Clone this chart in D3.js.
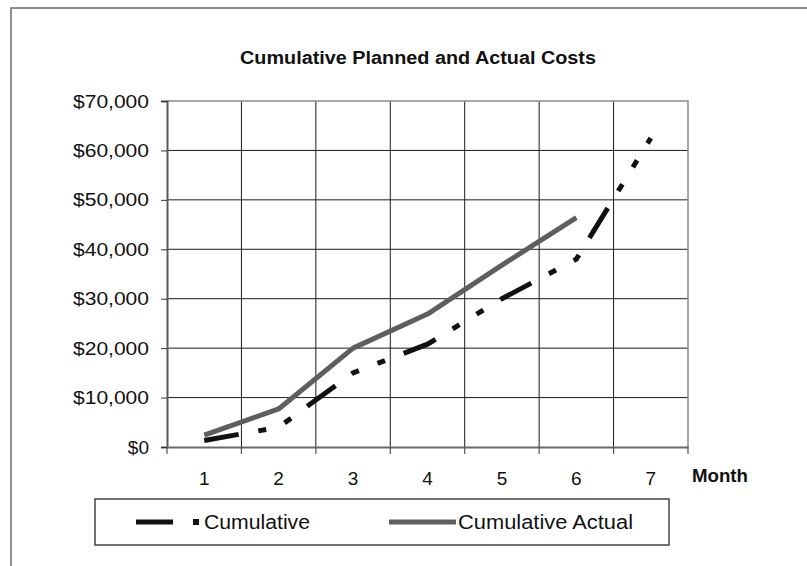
<!DOCTYPE html>
<html>
<head>
<meta charset="utf-8">
<script src="https://cdn.jsdelivr.net/npm/d3@7"></script>
<style>
  body { margin: 0; background: #fff; }
  svg { display: block; font-family: "Liberation Sans", Arial, sans-serif; }
</style>
</head>
<body>
<figure id="chart" style="margin:0"></figure>
<script>
// data
const months = ["1", "2", "3", "4", "5", "6", "7"];
const planned = [1300, 4000, 15000, 20800, 30000, 38000, 62500];
const actual = [2400, 7700, 20000, 26900, 36800, 46400];
const yTicks = [0, 10000, 20000, 30000, 40000, 50000, 60000, 70000];
const seriesNames = ["Cumulative", "Cumulative Actual"];

const width = 807;
const height = 566;
const plotLeft = 167, plotRight = 688, plotTop = 101, plotBottom = 447;

const svg = d3.select("#chart")
  .append("svg")
  .attr("width", width)
  .attr("height", height);

// outer chart border (cut off at right and bottom)
svg.append("rect")
  .attr("x", 11).attr("y", 8)
  .attr("width", 820).attr("height", 600)
  .attr("fill", "none")
  .attr("stroke", "#6a6a6a")
  .attr("stroke-width", 1.5);

svg.append("text")
  .attr("x", 418).attr("y", 64)
  .attr("text-anchor", "middle")
  .attr("font-size", 18)
  .attr("font-weight", "bold")
  .attr("textLength", 356)
  .attr("lengthAdjust", "spacingAndGlyphs")
  .attr("fill", "#111")
  .text("Cumulative Planned and Actual Costs");

const x = d3.scaleBand().domain(months).range([plotLeft, plotRight]);
const y = d3.scaleLinear().domain([0, 70000]).range([plotBottom, plotTop]);
const cx = d => x(d) + x.bandwidth() / 2;

// horizontal gridlines
svg.append("g").selectAll("line")
  .data(yTicks.slice(1, -1))
  .enter().append("line")
  .attr("x1", plotLeft).attr("x2", plotRight)
  .attr("y1", d => y(d)).attr("y2", d => y(d))
  .attr("stroke", "#1a1a1a").attr("stroke-width", 1);

// vertical gridlines at category boundaries
svg.append("g").selectAll("line")
  .data(months.slice(1))
  .enter().append("line")
  .attr("x1", d => x(d)).attr("x2", d => x(d))
  .attr("y1", plotTop).attr("y2", plotBottom)
  .attr("stroke", "#1a1a1a").attr("stroke-width", 1);

// plot border top/right
svg.append("path")
  .attr("d", `M${plotLeft},${plotTop}H${plotRight}V${plotBottom}`)
  .attr("fill", "none")
  .attr("stroke", "#8a8a8a").attr("stroke-width", 1.5);

// y axis
const yAxis = svg.append("g")
  .attr("transform", `translate(${plotLeft},0)`)
  .call(d3.axisLeft(y).tickValues(yTicks).tickSize(6).tickFormat(d => "$" + d3.format(",")(d)));
yAxis.select(".domain").attr("stroke", "#5a5a5a").attr("stroke-width", 2);
yAxis.selectAll(".tick line").attr("stroke", "#333");
yAxis.selectAll(".tick text")
  .attr("x", -18)
  .attr("font-size", 19)
  .attr("fill", "#111")
  .attr("font-family", "Liberation Sans, Arial, sans-serif")
  .each(function (d) {
    if (d > 0) d3.select(this).attr("textLength", 76).attr("lengthAdjust", "spacingAndGlyphs");
  });

// x axis
const xAxis = svg.append("g")
  .attr("transform", `translate(0,${plotBottom})`)
  .call(d3.axisBottom(x).tickSize(0).tickPadding(25));
xAxis.select(".domain").attr("stroke", "#6a6a6a").attr("stroke-width", 2);
xAxis.selectAll(".tick text")
  .attr("font-size", 19)
  .attr("fill", "#111")
  .attr("font-family", "Liberation Sans, Arial, sans-serif");
svg.append("g").selectAll("line")
  .data(months.concat(["end"]))
  .enter().append("line")
  .attr("x1", (d, i) => plotLeft + i * x.bandwidth())
  .attr("x2", (d, i) => plotLeft + i * x.bandwidth())
  .attr("y1", plotBottom).attr("y2", plotBottom + 7)
  .attr("stroke", "#555").attr("stroke-width", 1.2);

svg.append("text")
  .attr("x", 692).attr("y", 482)
  .attr("font-size", 18)
  .attr("font-weight", "bold")
  .attr("textLength", 56)
  .attr("lengthAdjust", "spacingAndGlyphs")
  .attr("fill", "#111")
  .text("Month");

// lines
const line = d3.line().x(d => cx(d.m)).y(d => y(d.v));

svg.append("path")
  .datum(actual.map((v, i) => ({ m: months[i], v: v })))
  .attr("d", line)
  .attr("fill", "none")
  .attr("stroke", "#5e5e5e")
  .attr("stroke-width", 5)
  .attr("stroke-linejoin", "round");

svg.append("path")
  .datum(planned.map((v, i) => ({ m: months[i], v: v })))
  .attr("d", line)
  .attr("fill", "none")
  .attr("stroke", "#111")
  .attr("stroke-width", 5)
  .attr("stroke-dasharray", "35,20,8,20,8,20");

// legend
svg.append("rect")
  .attr("x", 95).attr("y", 499)
  .attr("width", 574).attr("height", 46)
  .attr("fill", "#fff")
  .attr("stroke", "#444").attr("stroke-width", 1.5);

svg.append("line")
  .attr("x1", 136).attr("x2", 173).attr("y1", 522).attr("y2", 522)
  .attr("stroke", "#111").attr("stroke-width", 5);
svg.append("rect")
  .attr("x", 193).attr("y", 519).attr("width", 6).attr("height", 6)
  .attr("fill", "#111");
svg.append("text")
  .attr("x", 204).attr("y", 529)
  .attr("font-size", 20)
  .attr("textLength", 106)
  .attr("lengthAdjust", "spacingAndGlyphs")
  .attr("fill", "#111")
  .text(seriesNames[0]);

svg.append("line")
  .attr("x1", 389).attr("x2", 456).attr("y1", 522).attr("y2", 522)
  .attr("stroke", "#5e5e5e").attr("stroke-width", 5);
svg.append("text")
  .attr("x", 458).attr("y", 529)
  .attr("font-size", 20)
  .attr("textLength", 175)
  .attr("lengthAdjust", "spacingAndGlyphs")
  .attr("fill", "#111")
  .text(seriesNames[1]);
</script>
</body>
</html>
